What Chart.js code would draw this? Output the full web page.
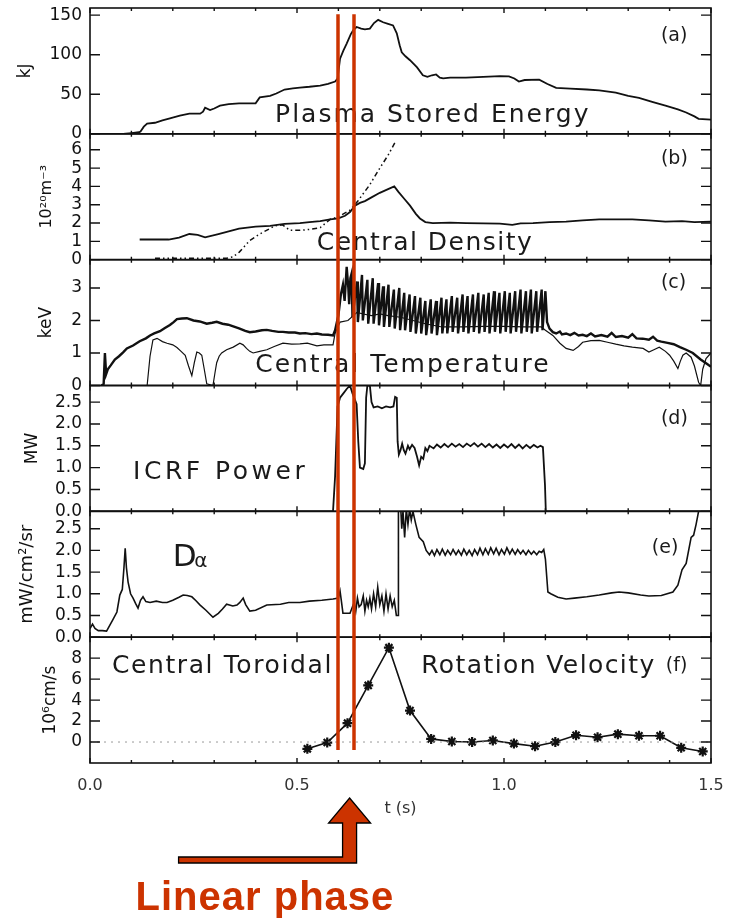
<!DOCTYPE html>
<html>
<head>
<meta charset="utf-8">
<script src="https://cdn.jsdelivr.net/npm/chart.js@4.4.1/dist/chart.umd.min.js"></script>
<style>
  html, body { margin: 0; padding: 0; background: #fff; }
  canvas { display: block; }
</style>
</head>
<body>
<canvas id="c" width="736" height="919"></canvas>
<script>
// ---- time axis ----
const TICKS_T = [0, 0.5, 1.0, 1.5];
const MINOR_T = [0.1, 0.2, 0.3, 0.4, 0.6, 0.7, 0.8, 0.9, 1.1, 1.2, 1.3, 1.4];

// ---- tick values of the six panels ----
const TICKS_A = [0, 50, 100, 150];
const TICKS_B = [0, 1, 2, 3, 4, 5, 6];
const TICKS_C = [0, 1, 2, 3];
const TICKS_D = [0, 0.5, 1.0, 1.5, 2.0, 2.5];
const TICKS_E = [0, 0.5, 1.0, 1.5, 2.0, 2.5];
const TICKS_F = [0, 2, 4, 6, 8];

// ---- (a) plasma stored energy, kJ ----
const storedEnergy = [
  [0.0,0],[0.08,0],[0.10,1],[0.118,2],[0.122,3],[0.13,9],[0.138,13],[0.157,14],[0.175,17],
  [0.193,19.5],[0.217,23],[0.24,25.5],[0.266,25.5],[0.273,28],[0.278,33],[0.29,30],[0.30,32],
  [0.314,35.5],[0.335,37.5],[0.36,38.5],[0.40,38.5],[0.41,46],[0.435,48],[0.45,51],[0.47,56],
  [0.49,57.5],[0.507,58.5],[0.53,59.5],[0.556,61],[0.575,63],[0.592,66],[0.598,70],[0.604,95],
  [0.612,105],[0.62,114],[0.63,126],[0.636,131],[0.644,135],[0.655,133],[0.664,132],[0.676,133],
  [0.686,140],[0.696,144],[0.708,141],[0.72,139],[0.732,137],[0.741,127],[0.748,112],[0.753,103],
  [0.762,98],[0.773,93],[0.79,84],[0.804,74],[0.815,72],[0.826,74],[0.836,75],[0.845,71],
  [0.853,70],[0.87,71],[0.908,71],[0.95,72],[0.99,73],[1.012,72.5],[1.025,70],[1.036,66],
  [1.05,68],[1.085,68.5],[1.105,63],[1.126,58],[1.16,57],[1.2,56],[1.23,55],[1.27,52],[1.3,48],
  [1.326,45.5],[1.36,40],[1.39,35.5],[1.42,31],[1.44,27],[1.46,22],[1.47,19],[1.5,18]
];

// ---- (b) central density, 10^20 m^-3 ----
const densitySolid = [
  [0.12,1.1],[0.19,1.1],[0.215,1.2],[0.24,1.4],[0.26,1.35],[0.278,1.22],[0.31,1.4],[0.335,1.55],
  [0.36,1.7],[0.40,1.8],[0.435,1.85],[0.47,1.95],[0.507,2.0],[0.53,2.05],[0.556,2.1],[0.58,2.2],
  [0.6,2.25],[0.616,2.4],[0.628,2.6],[0.64,2.95],[0.652,3.1],[0.664,3.2],[0.68,3.4],[0.7,3.65],
  [0.72,3.85],[0.735,4.0],[0.745,3.7],[0.76,3.3],[0.773,2.95],[0.787,2.5],[0.797,2.25],[0.81,2.05],
  [0.828,2.0],[0.87,2.02],[0.908,2.0],[0.95,1.98],[0.99,1.97],[1.02,1.9],[1.04,1.98],[1.07,2.0],
  [1.11,2.05],[1.15,2.08],[1.19,2.15],[1.23,2.2],[1.27,2.2],[1.31,2.2],[1.35,2.15],[1.39,2.08],
  [1.43,2.1],[1.46,2.05],[1.5,2.08]
];
const densityDashed = [
  [0.157,0.08],[0.25,0.08],[0.33,0.08],[0.345,0.15],[0.36,0.4],[0.386,1.05],[0.41,1.4],[0.447,1.85],
  [0.465,1.9],[0.483,1.6],[0.507,1.6],[0.53,1.65],[0.556,1.75],[0.58,2.2],[0.6,2.35],[0.628,2.7],
  [0.647,3.2],[0.676,4.1],[0.7,5.0],[0.72,5.7],[0.738,6.45]
];

// ---- (c) central temperature, keV ----
const teCore = [
  [0.028,0],[0.033,0.05],[0.036,1.0],[0.039,0.35],[0.043,0.5],[0.05,0.62],[0.06,0.8],[0.07,0.9],
  [0.08,1.02],[0.089,1.14],[0.104,1.23],[0.12,1.36],[0.135,1.45],[0.145,1.54],[0.155,1.6],
  [0.169,1.67],[0.18,1.76],[0.193,1.86],[0.202,1.95],[0.21,2.04],[0.222,2.06],[0.234,2.07],
  [0.25,2.0],[0.265,1.97],[0.282,1.9],[0.295,1.93],[0.306,1.96],[0.32,1.9],[0.334,1.87],
  [0.346,1.82],[0.36,1.76],[0.375,1.68],[0.386,1.64],[0.4,1.66],[0.415,1.7],[0.427,1.71],
  [0.44,1.68],[0.455,1.65],[0.466,1.65],[0.48,1.63],[0.495,1.63],[0.507,1.6],[0.52,1.61],
  [0.535,1.58],[0.548,1.6],[0.56,1.57],[0.575,1.56],[0.587,1.54],[0.592,1.7],[0.6,2.16],
  [0.606,2.8],[0.611,3.1],[0.615,2.6],[0.62,3.65],[0.624,3.0],[0.626,2.5],[0.629,3.3],
  [0.632,3.45],[0.634,2.1],
  [0.645,3.2],[0.647,1.95],[0.657,3.4],[0.659,2.0],[0.670,3.25],[0.672,1.9],[0.683,3.3],[0.685,1.9],
  [0.696,3.15],[0.698,1.85],[0.708,3.05],[0.710,1.8],[0.721,3.1],[0.723,1.8],[0.734,2.95],[0.736,1.75],
  [0.747,3.0],[0.749,1.7],[0.759,2.85],[0.761,1.7],[0.772,2.8],[0.774,1.65],[0.785,2.75],[0.787,1.6],
  [0.798,2.7],[0.800,1.6],[0.810,2.6],[0.812,1.55],[0.823,2.65],[0.825,1.6],[0.836,2.6],[0.838,1.55],
  [0.849,2.7],[0.851,1.6],[0.861,2.65],[0.863,1.6],[0.874,2.75],[0.876,1.65],[0.887,2.7],[0.889,1.6],
  [0.900,2.8],[0.902,1.65],[0.912,2.75],[0.914,1.6],[0.925,2.8],[0.927,1.65],[0.938,2.85],[0.940,1.6],
  [0.951,2.8],[0.953,1.65],[0.963,2.85],[0.965,1.6],[0.976,2.9],[0.978,1.65],[0.989,2.85],[0.991,1.6],
  [1.002,2.9],[1.004,1.65],[1.014,2.85],[1.016,1.6],[1.027,2.9],[1.029,1.65],[1.040,2.95],[1.042,1.6],
  [1.053,2.9],[1.055,1.65],[1.065,2.95],[1.067,1.6],[1.078,2.9],[1.080,1.65],[1.091,2.95],[1.093,1.7],
  [1.100,2.9],[1.104,1.95],[1.11,1.75],[1.118,1.64],[1.126,1.6],[1.135,1.66],[1.14,1.57],[1.15,1.6],
  [1.16,1.55],[1.17,1.62],[1.18,1.54],[1.19,1.56],[1.2,1.52],[1.21,1.6],[1.22,1.51],[1.235,1.55],
  [1.25,1.5],[1.26,1.62],[1.27,1.49],[1.285,1.52],[1.3,1.47],[1.31,1.58],[1.32,1.45],[1.335,1.44],
  [1.35,1.41],[1.36,1.5],[1.37,1.38],[1.38,1.35],[1.395,1.31],[1.41,1.27],[1.425,1.18],[1.44,1.1],
  [1.456,1.0],[1.475,0.8],[1.495,0.62],[1.5,0.58]
];
const teSecond = [
  [0.138,0],[0.145,0.9],[0.152,1.4],[0.162,1.45],[0.175,1.35],[0.186,1.3],[0.2,1.25],[0.21,1.17],
  [0.22,1.05],[0.23,0.93],[0.238,0.6],[0.246,0.3],[0.252,0.7],[0.258,1.03],[0.264,1.0],[0.27,0.93],
  [0.276,0.5],[0.282,0.05],[0.297,0.0],[0.302,0.4],[0.306,0.7],[0.312,0.9],[0.318,1.0],[0.33,1.1],
  [0.346,1.18],[0.362,1.3],[0.37,1.25],[0.378,1.14],[0.386,1.05],[0.394,1.0],[0.41,1.05],[0.427,1.1],
  [0.445,1.2],[0.466,1.3],[0.487,1.27],[0.507,1.28],[0.525,1.3],[0.548,1.22],[0.565,1.25],[0.587,1.25],
  [0.592,1.6],[0.604,1.95],[0.623,2.0],[0.645,2.25],[0.66,2.2],[0.68,2.15],[0.7,2.2],[0.72,2.15],
  [0.75,2.1],[0.78,2.0],[0.81,1.9],[0.85,1.8],[0.9,1.8],[0.95,1.82],[1.0,1.82],[1.05,1.8],[1.09,1.8],
  [1.1,1.7],[1.118,1.54],[1.135,1.3],[1.15,1.14],[1.167,1.08],[1.18,1.2],[1.19,1.33],[1.21,1.38],
  [1.23,1.39],[1.25,1.33],[1.27,1.27],[1.29,1.22],[1.31,1.18],[1.336,1.14],[1.35,1.03],[1.362,1.1],
  [1.375,1.18],[1.39,1.05],[1.4,0.93],[1.41,0.75],[1.42,0.52],[1.426,0.75],[1.432,0.93],[1.44,1.0],
  [1.452,0.87],[1.46,0.6],[1.47,0.1],[1.475,0.0],[1.48,0.5],[1.488,0.83],[1.495,0.93],[1.5,1.0]
];

// ---- (d) ICRF power, MW ----
const icrfPower = [
  [0.0,0],[0.587,0],[0.592,0.8],[0.598,2.4],[0.604,2.6],[0.612,2.7],[0.620,2.8],[0.628,2.88],
  [0.634,2.7],[0.640,2.55],[0.644,2.45],[0.648,1.6],[0.652,1.0],[0.660,0.97],[0.664,1.1],[0.667,2.6],
  [0.670,2.88],[0.676,2.88],[0.680,2.5],[0.685,2.38],[0.695,2.4],[0.705,2.36],[0.715,2.4],[0.725,2.38],
  [0.733,2.4],[0.737,2.62],[0.741,2.6],[0.743,1.6],[0.746,1.3],[0.750,1.4],[0.754,1.55],[0.758,1.4],
  [0.762,1.32],[0.768,1.5],[0.772,1.42],[0.778,1.52],[0.784,1.45],[0.790,1.25],[0.795,1.05],[0.800,1.25],
  [0.805,1.2],[0.810,1.45],[0.815,1.38],[0.82,1.5],[0.83,1.44],[0.838,1.53],[0.847,1.46],[0.856,1.54],
  [0.865,1.47],[0.874,1.55],[0.883,1.48],[0.892,1.54],[0.901,1.47],[0.91,1.55],[0.919,1.49],[0.928,1.56],
  [0.937,1.48],[0.946,1.55],[0.955,1.47],[0.964,1.54],[0.973,1.46],[0.982,1.53],[0.991,1.45],[1.0,1.53],
  [1.009,1.46],[1.018,1.54],[1.027,1.45],[1.036,1.53],[1.045,1.44],[1.054,1.52],[1.063,1.45],[1.072,1.52],
  [1.081,1.46],[1.088,1.5],[1.094,1.47],[1.099,0.6],[1.101,0],[1.5,0]
];

// ---- (e) D-alpha, mW/cm^2/sr ----
const dAlpha = [
  [0.0,0.2],[0.006,0.3],[0.012,0.2],[0.02,0.15],[0.03,0.15],[0.04,0.14],[0.048,0.28],[0.055,0.4],
  [0.065,0.58],[0.072,0.97],[0.078,1.1],[0.082,1.6],[0.085,2.05],[0.088,1.6],[0.092,1.27],[0.098,1.0],
  [0.104,0.9],[0.11,0.78],[0.116,0.67],[0.122,0.85],[0.128,0.93],[0.135,0.82],[0.145,0.8],[0.16,0.83],
  [0.175,0.8],[0.186,0.8],[0.2,0.85],[0.215,0.92],[0.225,0.97],[0.235,0.96],[0.246,0.93],[0.256,0.84],
  [0.266,0.74],[0.28,0.62],[0.297,0.46],[0.31,0.55],[0.32,0.65],[0.33,0.76],[0.345,0.72],[0.355,0.74],
  [0.362,0.8],[0.37,0.9],[0.376,0.75],[0.386,0.6],[0.4,0.62],[0.427,0.74],[0.46,0.76],[0.48,0.8],
  [0.507,0.8],[0.53,0.83],[0.56,0.85],[0.587,0.88],[0.6,0.9],[0.604,1.06],[0.607,0.85],[0.611,0.55],
  [0.62,0.55],[0.628,0.55],[0.634,0.7],[0.638,0.8],[0.642,0.6],[0.646,0.9],[0.65,0.7],[0.655,0.75],
  [0.66,0.95],[0.664,0.6],[0.668,0.85],[0.672,0.7],[0.676,0.9],[0.68,0.65],[0.685,1.0],[0.69,0.7],
  [0.695,1.15],[0.7,0.75],[0.705,0.95],[0.71,0.6],[0.715,1.0],[0.72,0.65],[0.725,0.95],[0.73,0.7],
  [0.735,0.85],[0.74,0.5],[0.744,0.5],[0.745,3.0],[0.75,3.1],[0.753,2.5],[0.756,2.9],[0.76,2.3],
  [0.764,2.95],[0.768,2.6],[0.772,2.95],[0.776,2.7],[0.78,2.9],[0.787,2.6],[0.795,2.3],[0.805,2.2],
  [0.812,2.0],[0.82,1.9],[0.826,2.0],[0.832,1.88],[0.838,2.02],[0.845,1.9],[0.851,2.03],[0.858,1.89],
  [0.864,2.0],[0.871,1.9],[0.877,2.02],[0.884,1.9],[0.890,2.0],[0.897,1.89],[0.903,2.03],[0.910,1.9],
  [0.916,2.0],[0.923,1.88],[0.929,2.02],[0.936,1.9],[0.942,2.05],[0.949,1.9],[0.955,2.04],[0.962,1.91],
  [0.968,2.06],[0.975,1.92],[0.981,2.05],[0.988,1.9],[0.994,2.02],[1.001,1.91],[1.007,2.06],[1.014,1.92],
  [1.020,2.03],[1.027,1.91],[1.033,2.02],[1.040,1.92],[1.046,2.0],[1.053,1.9],[1.059,2.0],[1.066,1.91],
  [1.072,1.98],[1.079,1.9],[1.085,1.98],[1.091,1.95],[1.096,2.02],[1.1,1.8],[1.106,1.04],[1.113,1.0],
  [1.13,0.92],[1.15,0.88],[1.17,0.9],[1.2,0.93],[1.23,0.97],[1.26,1.02],[1.278,1.04],[1.3,1.02],
  [1.33,0.97],[1.35,0.95],[1.38,0.96],[1.408,1.04],[1.42,1.2],[1.43,1.55],[1.44,1.7],[1.452,2.3],
  [1.458,2.35],[1.464,2.6],[1.47,2.9],[1.475,3.2]
];

// ---- (f) central toroidal rotation velocity, 10^6 cm/s ----
const rotTimes  = [0.525, 0.573, 0.622, 0.672, 0.722, 0.773, 0.824, 0.874, 0.923, 0.973,
                   1.024, 1.075, 1.124, 1.174, 1.226, 1.275, 1.326, 1.377, 1.428, 1.48];
const rotValues = [-0.65, -0.05, 1.8, 5.4, 9.0, 3.0, 0.3, 0.05, 0.0, 0.15,
                   -0.15, -0.4, 0.0, 0.65, 0.45, 0.75, 0.6, 0.6, -0.55, -0.9];
const rotZero = [[0.0, 0], [1.5, 0]];

// ---- linear-phase markers ----
const PHASE_T = [0.6, 0.638];
const ARROW_T = 0.627;
const RED = '#cc3300';

const FONT = 'DejaVu Sans';
const INK = '#111';

const PANELS = [
  { id: 'a', ticks: TICKS_A, min: 0,  max: 159,  title: 'kJ',          tsize: 17, tpad: 15, dec: false, weight: 6 },
  { id: 'b', ticks: TICKS_B, min: 0,  max: 6.87, title: '10²⁰m⁻³',     tsize: 16, tpad: 37, dec: false, weight: 5 },
  { id: 'c', ticks: TICKS_C, min: 0,  max: 3.87, title: 'keV',         tsize: 17, tpad: 36, dec: false, weight: 4 },
  { id: 'd', ticks: TICKS_D, min: 0,  max: 2.88, title: 'MW',          tsize: 17, tpad: 22, dec: true,  weight: 3 },
  { id: 'e', ticks: TICKS_E, min: 0,  max: 2.9,  title: 'mW/cm²/sr',   tsize: 18, tpad: 17, dec: true,  weight: 2 },
  { id: 'f', ticks: TICKS_F, min: -2, max: 10,   title: '10⁶cm/s',     tsize: 17, tpad: 40, dec: false, weight: 1 }
];

const NOTES = [
  { axis: 'a', t: 0.447, v: 15,   text: 'Plasma Stored Energy', size: 25, ls: 2 },
  { axis: 'a', t: 1.379, v: 117,  text: '(a)', size: 19, ls: 0 },
  { axis: 'b', t: 1.379, v: 5.2,  text: '(b)', size: 19, ls: 0 },
  { axis: 'b', t: 0.548, v: 0.53, text: 'Central Density', size: 25, ls: 1.5 },
  { axis: 'c', t: 1.379, v: 3.0,  text: '(c)', size: 19, ls: 0 },
  { axis: 'c', t: 0.399, v: 0.42, text: 'Central Temperature', size: 25, ls: 2 },
  { axis: 'd', t: 1.379, v: 2.0,  text: '(d)', size: 19, ls: 0 },
  { axis: 'd', t: 0.104, v: 0.74, text: 'ICRF Power', size: 25, ls: 3.5 },
  { axis: 'e', t: 1.357, v: 1.95, text: '(e)', size: 19, ls: 0 },
  { axis: 'e', t: 0.2,   v: 1.65, text: 'D', size: 31, ls: 0 },
  { axis: 'e', t: 0.252, v: 1.62, text: 'α', size: 20, ls: 0 },
  { axis: 'f', t: 0.053, v: 6.57, text: 'Central Toroidal', size: 25, ls: 1.6 },
  { axis: 'f', t: 0.8,   v: 6.57, text: 'Rotation Velocity', size: 25, ls: 1.4 },
  { axis: 'f', t: 1.391, v: 6.76, text: '(f)', size: 19, ls: 0 }
];

const pts = arr => arr.map(([x, y]) => ({ x, y }));
const trace = (data, axis, extra) => Object.assign({
  data: pts(data), yAxisID: axis, borderColor: INK, borderWidth: 1.6,
  pointRadius: 0, fill: false, tension: 0
}, extra || {});

function yAxis(p) {
  return {
    type: 'linear', position: 'left', stack: 'panels', stackWeight: 1, weight: p.weight,
    min: p.min, max: p.max,
    grid: { display: false, drawTicks: false }, border: { display: false },
    afterBuildTicks: s => { s.ticks = p.ticks.map(v => ({ value: v })); },
    afterFit: s => { s.width = 90; s.paddingTop = 0; s.paddingBottom = 0; },
    ticks: {
      autoSkip: false, padding: 8, color: INK, font: { family: FONT, size: 17 },
      callback: v => p.dec ? Number(v).toFixed(1) : String(v)
    },
    title: {
      display: true, text: p.title, color: INK,
      font: { family: FONT, size: p.tsize }, padding: { top: p.tpad, bottom: 0 }
    }
  };
}

const scales = {
  x: {
    type: 'linear', position: 'bottom', min: 0, max: 1.5,
    grid: { display: false, drawTicks: false }, border: { display: false },
    afterBuildTicks: s => { s.ticks = TICKS_T.map(v => ({ value: v })); },
    afterFit: s => { s.height = 60; s.paddingLeft = 0; s.paddingRight = 0; },
    ticks: {
      autoSkip: false, maxRotation: 0, padding: 13, color: '#333',
      font: { family: FONT, size: 16 }, callback: v => Number(v).toFixed(1)
    },
    title: {
      display: true, text: 't (s)', color: '#333',
      font: { family: FONT, size: 16 }, padding: { top: 0, bottom: 5 }
    }
  }
};
PANELS.forEach(p => { scales[p.id] = yAxis(p); });

// Frames, inward ticks, in-panel labels and the linear-phase overlay
const overlay = {
  id: 'overlay',
  beforeDraw(chart) {
    const { ctx, width, height } = chart;
    ctx.save();
    ctx.fillStyle = '#fff';
    ctx.fillRect(0, 0, width, height);
    ctx.restore();
  },
  afterDatasetsDraw(chart) {
    const { ctx, chartArea: ca, scales: sc } = chart;
    const xs = sc.x;
    ctx.save();
    ctx.strokeStyle = INK;

    PANELS.forEach(p => {
      const s = sc[p.id];
      ctx.lineWidth = 1.6;
      ctx.strokeRect(ca.left, s.top, ca.right - ca.left, s.bottom - s.top);
      ctx.lineWidth = 1.4;
      ctx.beginPath();
      p.ticks.forEach(v => {
        const y = s.getPixelForValue(v);
        ctx.moveTo(ca.left, y);  ctx.lineTo(ca.left + 10, y);
        ctx.moveTo(ca.right, y); ctx.lineTo(ca.right - 10, y);
      });
      TICKS_T.forEach(t => {
        const x = xs.getPixelForValue(t);
        ctx.moveTo(x, s.top);    ctx.lineTo(x, s.top + 5);
        ctx.moveTo(x, s.bottom); ctx.lineTo(x, s.bottom - 5);
      });
      MINOR_T.forEach(t => {
        const x = xs.getPixelForValue(t);
        ctx.moveTo(x, s.top);    ctx.lineTo(x, s.top + 3);
        ctx.moveTo(x, s.bottom); ctx.lineTo(x, s.bottom - 3);
      });
      ctx.stroke();
    });

    ctx.fillStyle = '#1a1a1a';
    ctx.textBaseline = 'alphabetic';
    ctx.textAlign = 'left';
    NOTES.forEach(n => {
      ctx.font = n.size + 'px "' + FONT + '"';
      ctx.letterSpacing = n.ls + 'px';
      ctx.fillText(n.text, xs.getPixelForValue(n.t), sc[n.axis].getPixelForValue(n.v));
    });
    ctx.letterSpacing = '0px';

    // linear phase window
    ctx.strokeStyle = RED;
    ctx.lineWidth = 3.5;
    const yTop = sc.a.getPixelForValue(151);
    const yBot = sc.f.getPixelForValue(-0.75);
    PHASE_T.forEach(t => {
      const x = Math.round(xs.getPixelForValue(t));
      ctx.beginPath();
      ctx.moveTo(x, yTop);
      ctx.lineTo(x, yBot);
      ctx.stroke();
    });

    // elbow arrow pointing up at the window
    const tx = xs.getPixelForValue(ARROW_T);
    const ty = xs.top + 35;
    ctx.beginPath();
    ctx.moveTo(tx, ty);
    ctx.lineTo(tx + 21, ty + 25);
    ctx.lineTo(tx + 7, ty + 25);
    ctx.lineTo(tx + 7, ty + 65);
    ctx.lineTo(tx - 171, ty + 65);
    ctx.lineTo(tx - 171, ty + 59);
    ctx.lineTo(tx - 7, ty + 59);
    ctx.lineTo(tx - 7, ty + 25);
    ctx.lineTo(tx - 21, ty + 25);
    ctx.closePath();
    ctx.fillStyle = RED;
    ctx.fill();
    ctx.strokeStyle = '#000';
    ctx.lineWidth = 1.3;
    ctx.stroke();

    ctx.fillStyle = RED;
    ctx.font = 'bold 40px "Liberation Sans"';
    ctx.letterSpacing = '1px';
    ctx.fillText('Linear phase', tx - 214, ty + 112);
    ctx.letterSpacing = '0px';
    ctx.restore();
  }
};

new Chart(document.getElementById('c'), {
  type: 'line',
  data: {
    datasets: [
      trace(storedEnergy, 'a', { borderWidth: 1.8 }),
      trace(densitySolid, 'b', { borderWidth: 1.8 }),
      trace(densityDashed, 'b', { borderWidth: 1.5, borderDash: [5, 3, 1.5, 3, 1.5, 3] }),
      trace(teSecond, 'c', { borderWidth: 1.2 }),
      trace(teCore, 'c', { borderWidth: 2.4 }),
      trace(icrfPower, 'd', { borderWidth: 1.8 }),
      trace(dAlpha, 'e', { borderWidth: 1.6 }),
      trace(rotZero, 'f', { borderWidth: 1, borderColor: '#999', borderDash: [2, 5] }),
      {
        data: rotTimes.map((t, i) => ({ x: t, y: rotValues[i] })), yAxisID: 'f',
        borderColor: INK, borderWidth: 1.6, fill: false, tension: 0,
        pointStyle: 'star', pointRadius: 5, pointBorderWidth: 2.2,
        pointBorderColor: INK, pointBackgroundColor: INK
      }
    ]
  },
  options: {
    responsive: false,
    animation: false,
    parsing: false,
    normalized: true,
    layout: { padding: { left: 0, right: 25, top: 8, bottom: 96 } },
    plugins: { legend: { display: false }, tooltip: { enabled: false } },
    scales: scales
  },
  plugins: [overlay]
});
</script>
</body>
</html>
